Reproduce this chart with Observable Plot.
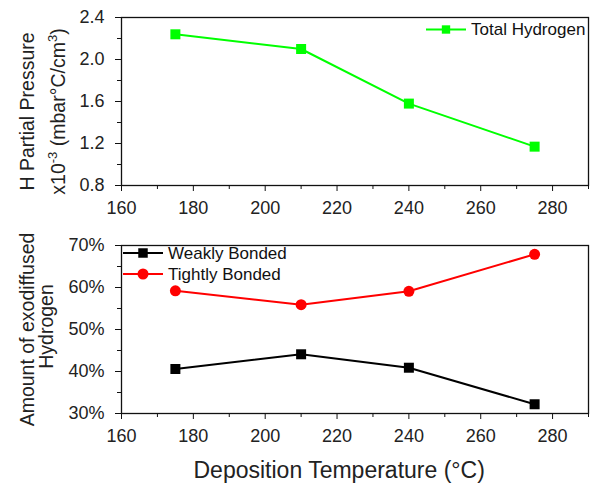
<!DOCTYPE html>
<html><head><meta charset="utf-8">
<script src="https://cdn.jsdelivr.net/npm/d3@7"></script>
<script src="https://cdn.jsdelivr.net/npm/@observablehq/plot@0.6"></script>
<style>
body{margin:0;background:#fff;font-family:"Liberation Sans",Arial,sans-serif;}
#chart{width:592px;height:485px;position:relative;background:#fff;}
#chart svg{display:block;overflow:visible;}
</style></head><body><div id="chart"></div>
<script>
// ---- data ----
const temperatures = [175, 210, 240, 275];
const totalHydrogen = [2.24, 2.10, 1.58, 1.17];
const weaklyBonded = [40.6, 44.1, 40.9, 32.2];
const tightlyBonded = [59.2, 55.9, 59.1, 67.9];
const xTicks = [160, 180, 200, 220, 240, 260, 280];
const xMinorTicks = [170, 190, 210, 230, 250, 270, 290];
const topYTicks = [0.8, 1.2, 1.6, 2.0, 2.4];
const topYMinorTicks = [1.0, 1.4, 1.8, 2.2];
const bottomYTicks = [30, 40, 50, 60, 70];
const bottomYMinorTicks = [35, 45, 55, 65];
const seriesNames = ["Total Hydrogen", "Weakly Bonded", "Tightly Bonded"];
const topYTitle = ["H Partial Pressure", "x10⁻³ (mbar°C/cm³)"];
const bottomYTitle = ["Amount of exodiffused", "Hydrogen"];
const xTitle = "Deposition Temperature (°C)";

const FONT = "'Liberation Sans', Arial, sans-serif";
const colors = {"Total Hydrogen": "#00ff00", "Weakly Bonded": "#000000", "Tightly Bonded": "#ff0000"};

const topData = temperatures.map((t, i) => ({t, v: totalHydrogen[i], s: seriesNames[0]}));
const weakData = temperatures.map((t, i) => ({t, v: weaklyBonded[i], s: seriesNames[1]}));
const tightData = temperatures.map((t, i) => ({t, v: tightlyBonded[i], s: seriesNames[2]}));

function legendMark(items, side, ox, oy, rowGap) {
  return (index, scales, values, dims) => {
    const g = d3.create("svg:g");
    const x0 = side === "right" ? dims.width - dims.marginRight + ox : dims.marginLeft + ox;
    items.forEach((it, k) => {
      const y = dims.marginTop + oy + k * rowGap;
      g.append("line").attr("x1", x0).attr("x2", x0 + 40).attr("y1", y).attr("y2", y)
        .attr("stroke", it.color).attr("stroke-width", 2);
      g.append("path").attr("d", d3.symbol(it.symbol, it.size)())
        .attr("transform", `translate(${x0 + 20},${y})`).attr("fill", it.color);
      g.append("text").attr("x", x0 + 45).attr("y", y).attr("dy", "0.35em")
        .attr("text-anchor", "start")
        .attr("fill", "#111").attr("font-size", 17).attr("font-family", FONT).text(it.name);
    });
    return g.node();
  };
}

function commonAxes(yTicks, yMinor, yFormat) {
  return [
    Plot.frame({stroke: "#111", strokeWidth: 1.3}),
    Plot.axisX(xTicks, {tickSize: 6, tickPadding: 10, fontSize: 18, label: null, stroke: "#111", fill: "#222"}),
    Plot.axisX(xMinorTicks, {tickSize: 4, tickFormat: () => "", label: null, stroke: "#111"}),
    Plot.axisY(yTicks, {tickSize: 6, tickPadding: 11, fontSize: 18, label: null, tickFormat: yFormat, stroke: "#111", fill: "#222"}),
    Plot.axisY(yMinor, {tickSize: 4, tickFormat: () => "", label: null, stroke: "#111"})
  ];
}

const topPlot = Plot.plot({
  width: 592, height: 225,
  marginTop: 17, marginRight: 4, marginBottom: 40, marginLeft: 121,
  style: {fontFamily: FONT, fontSize: "18px", background: "white", color: "#222"},
  x: {domain: [160, 290]},
  y: {domain: [0.8, 2.4]},
  marks: [
    ...commonAxes(topYTicks, topYMinorTicks, d => d.toFixed(1)),
    Plot.line(topData, {x: "t", y: "v", stroke: colors[seriesNames[0]], strokeWidth: 2}),
    Plot.dot(topData, {x: "t", y: "v", symbol: "square", r: 5.64, fill: colors[seriesNames[0]], stroke: "none"}),
    legendMark([{name: seriesNames[0], color: colors[seriesNames[0]], symbol: d3.symbolSquare, size: 70}], "right", -162, 12.5, 0),
    Plot.text([topYTitle[0]], {text: d => d, frameAnchor: "left", rotate: -90, textAnchor: "middle", lineAnchor: "bottom", dx: -88, dy: 10, fontSize: 19.5, fill: "#222"}),
    Plot.text([topYTitle[1]], {text: d => d, frameAnchor: "left", rotate: -90, textAnchor: "middle", lineAnchor: "bottom", dx: -57, dy: 10, fontSize: 19.5, fill: "#222"})
  ]
});

const bottomPlot = Plot.plot({
  width: 592, height: 260,
  marginTop: 20, marginRight: 4, marginBottom: 72, marginLeft: 121,
  style: {fontFamily: FONT, fontSize: "18px", background: "white", color: "#222"},
  x: {domain: [160, 290]},
  y: {domain: [30, 70]},
  marks: [
    ...commonAxes(bottomYTicks, bottomYMinorTicks, d => d + "%"),
    Plot.line(weakData, {x: "t", y: "v", stroke: colors[seriesNames[1]], strokeWidth: 2}),
    Plot.dot(weakData, {x: "t", y: "v", symbol: "square", r: 5.64, fill: colors[seriesNames[1]], stroke: "none"}),
    Plot.line(tightData, {x: "t", y: "v", stroke: colors[seriesNames[2]], strokeWidth: 2}),
    Plot.dot(tightData, {x: "t", y: "v", symbol: "circle", r: 5.5, fill: colors[seriesNames[2]], stroke: "none"}),
    legendMark([
      {name: seriesNames[1], color: colors[seriesNames[1]], symbol: d3.symbolSquare, size: 90},
      {name: seriesNames[2], color: colors[seriesNames[2]], symbol: d3.symbolCircle, size: 95}
    ], "left", 2, 8, 21),
    Plot.text([bottomYTitle[0]], {text: d => d, frameAnchor: "left", rotate: -90, textAnchor: "middle", lineAnchor: "bottom", dx: -88, dy: 0, fontSize: 19.5, fill: "#222"}),
    Plot.text([bottomYTitle[1]], {text: d => d, frameAnchor: "left", rotate: -90, textAnchor: "middle", lineAnchor: "bottom", dx: -69, dy: -3, fontSize: 19.5, fill: "#222"}),
    Plot.text([xTitle], {text: d => d, frameAnchor: "bottom-left", textAnchor: "start", lineAnchor: "bottom", dx: 72, dy: 64, fontSize: 23, fill: "#222"})
  ]
});

// superscripts in the top y title
const supMap = {"⁻": "-", "³": "3"};
d3.select(topPlot).selectAll("text").each(function() {
  if (this.textContent !== topYTitle[1]) return;
  const el = d3.select(this);
  const str = this.textContent;
  el.text(null);
  let buf = "", sup = false, parts = [];
  for (const ch of str) {
    const isSup = ch in supMap;
    if (isSup !== sup && buf) { parts.push([buf, sup]); buf = ""; }
    sup = isSup; buf += isSup ? supMap[ch] : ch;
  }
  if (buf) parts.push([buf, sup]);
  let raised = false;
  for (const [t, s] of parts) {
    const ts = el.append("tspan").text(t);
    if (s && !raised) { ts.attr("dy", -8).attr("font-size", 13); raised = true; }
    else if (!s && raised) { ts.attr("dy", 8); raised = false; }
  }
});

const chart = document.getElementById("chart");
chart.append(topPlot, bottomPlot);
</script></body></html>
